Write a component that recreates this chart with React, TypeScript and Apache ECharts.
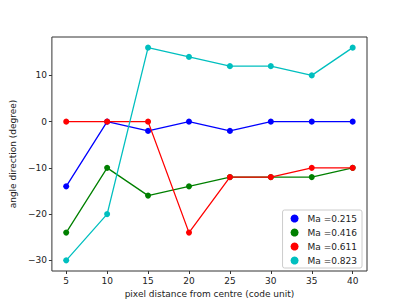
import React, { useEffect, useRef } from "react";
import * as echarts from "echarts";

const xValues = [5, 10, 15, 20, 25, 30, 35, 40];
const xTicks = [5, 10, 15, 20, 25, 30, 35, 40];
const yTicks = [-30, -20, -10, 0, 10];
const seriesNames = ["Ma =0.215", "Ma =0.416", "Ma =0.611", "Ma =0.823"];
const ma0215 = [-14, 0, -2, 0, -2, 0, 0, 0];
const ma0416 = [-24, -10, -16, -14, -12, -12, -12, -10];
const ma0611 = [0, 0, 0, -24, -12, -12, -10, -10];
const ma0823 = [-30, -20, 16, 14, 12, 12, 10, 16];
const colors = ["#0000ff", "#008000", "#ff0000", "#00bfbf"];

export default function App() {
  const ref = useRef<HTMLDivElement>(null);
  useEffect(() => {
    if (!ref.current) return;
    const chart = echarts.init(ref.current, null, { renderer: "svg" });
    const all = [ma0215, ma0416, ma0611, ma0823];
    const font = "DejaVu Sans";
    chart.setOption({
      animation: false,
      textStyle: { fontFamily: font },
      grid: {
        left: 51,
        right: 40,
        top: 37,
        bottom: 34,
        show: true,
        borderColor: "#333",
        borderWidth: 1,
        backgroundColor: "transparent",
      },
      xAxis: {
        type: "value",
        min: 3.25,
        max: 41.75,
        name: "pixel distance from centre (code unit)",
        nameLocation: "middle",
        nameGap: 18,
        nameTextStyle: { fontSize: 9, color: "#222", fontFamily: font },
        axisLine: { show: false, onZero: false },
        splitLine: { show: false },
        axisTick: { show: true, length: 3, lineStyle: { color: "#333" }, customValues: xTicks },
        axisLabel: { fontSize: 9, color: "#222", margin: 5, customValues: xTicks, fontFamily: font },
      },
      yAxis: {
        type: "value",
        min: -32.3,
        max: 18.3,
        name: "angle direction (degree)",
        nameLocation: "middle",
        nameGap: 33,
        nameTextStyle: { fontSize: 9, color: "#222", fontFamily: font },
        axisLine: { show: false, onZero: false },
        splitLine: { show: false },
        axisTick: { show: true, length: 3, lineStyle: { color: "#333" }, customValues: yTicks },
        axisLabel: {
          fontSize: 9,
          color: "#222",
          margin: 5,
          customValues: yTicks,
          fontFamily: font,
          formatter: (v: number) => (v < 0 ? "\u2212" + Math.abs(v) : String(v)),
        },
      },
      legend: {
        orient: "vertical",
        right: 45,
        bottom: 37,
        itemWidth: 8,
        itemHeight: 8,
        itemGap: 5,
        icon: "circle",
        padding: [4, 5, 3, 8],
        borderColor: "#ccc",
        borderWidth: 1,
        borderRadius: 2,
        backgroundColor: "rgba(255,255,255,0.8)",
        textStyle: { fontSize: 9, color: "#222", fontFamily: font, padding: [0, 0, 0, 4] },
        data: seriesNames,
      },
      series: all.map((arr, i) => ({
        name: seriesNames[i],
        type: "line",
        data: xValues.map((x, j) => [x, arr[j]]),
        symbol: "circle",
        symbolSize: 6,
        showAllSymbol: true,
        itemStyle: { color: colors[i] },
        lineStyle: { color: colors[i], width: 1.3 },
        z: 2 + i,
      })),
    });
    return () => chart.dispose();
  }, []);
  return <div ref={ref} style={{ width: 407, height: 305, position: "absolute", left: 0, top: 0 }} />;
}
